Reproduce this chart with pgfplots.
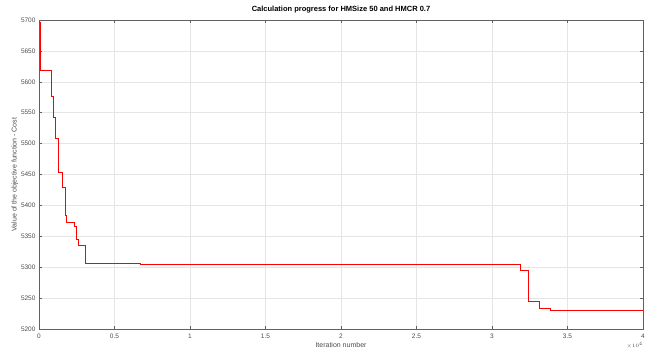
\documentclass[border=0pt]{standalone}
\usepackage{fontspec}
\setmainfont{Liberation Sans}
\usepackage{pgfplots}
\pgfplotsset{compat=1.18}
\definecolor{axgray}{rgb}{0.38,0.38,0.38}
\definecolor{txtgray}{rgb}{0.3,0.3,0.3}
\definecolor{gridgray}{rgb}{0.9,0.9,0.9}
\begin{document}
\begin{tikzpicture}
\begin{axis}[
  name=main,
  scale only axis,
  width=604pt, height=309pt,
  xmin=0, xmax=40000, ymin=5200, ymax=5700,
  xtick={0,5000,10000,15000,20000,25000,30000,35000,40000},
  xticklabels={0,0.5,1,1.5,2,2.5,3,3.5,4},
  scaled x ticks=false,
  ytick={5200,5250,...,5700},
  /pgf/number format/assume math mode=true,
  /pgf/number format/1000 sep={},
  tick align=inside,
  major tick length=3pt,
  grid=major,
  major grid style={gridgray, line width=0.4pt},
  axis line style={axgray, line width=0.5pt},
  tick style={axgray, line width=0.5pt},
  ticklabel style={font=\fontsize{6.5}{7}\selectfont, text=txtgray},
  xticklabel style={yshift=-1pt},
  label style={font=\fontsize{7}{8}\selectfont, text=txtgray},
  xlabel={Iteration number},
  ylabel={Value of the objective function - Cost},
  xlabel style={yshift=3pt},
  ylabel style={yshift=-4pt},
  title={Calculation progress for HMSize 50 and HMCR 0.7},
  title style={font=\bfseries\fontsize{7.5}{8}\selectfont, text=black, yshift=-3pt},
]
\addplot[const plot, red, line width=0.5pt] coordinates {
  (0,5697) (60,5618) (795,5577) (950,5542) (1060,5508) (1280,5453)
  (1570,5429) (1720,5384) (1790,5372) (2340,5366) (2450,5346)
  (2600,5335) (3070,5306) (6730,5304.5) (8340,5304) (31900,5295)
  (32430,5245) (33110,5234) (33840,5231) (39250,5230) (40000,5230)
};
\coordinate (SW) at (rel axis cs:0,0);
\coordinate (NE) at (rel axis cs:1,1);
\coordinate (SE) at (rel axis cs:1,0);
\end{axis}
\node[anchor=east, font=\fontsize{5.5}{6}\selectfont, text=txtgray, inner sep=0pt]
  at ([yshift=-16pt]SE) {$\times 10^{4}$};
\path ([xshift=-39pt,yshift=-23pt]SW) rectangle ([xshift=6pt,yshift=20pt]NE);
\end{tikzpicture}
\end{document}
